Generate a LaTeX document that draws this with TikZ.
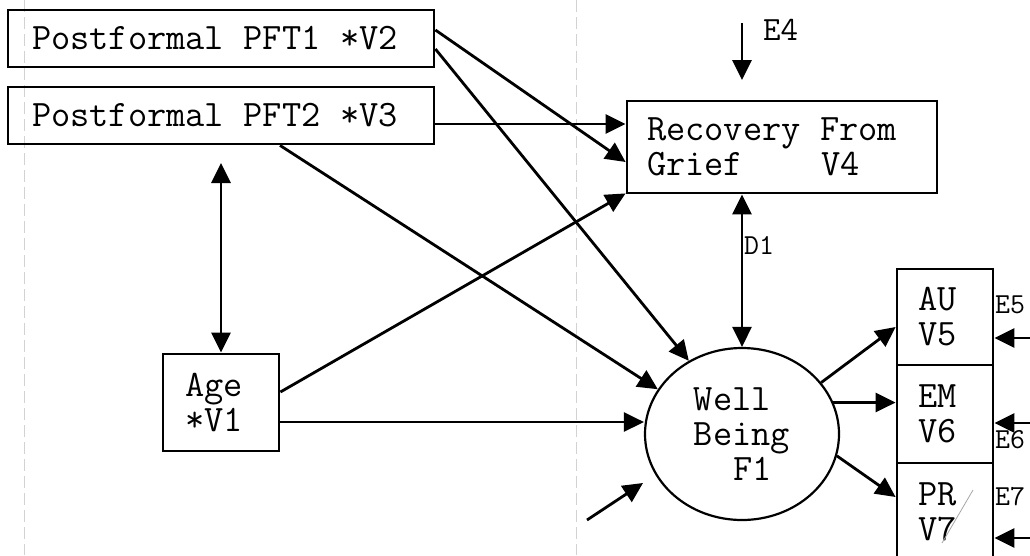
\documentclass[tikz,border=0pt]{standalone}
\usepackage{fontspec}
\usetikzlibrary{arrows.meta,shapes.geometric,calc}
% full-width typewriter space
\newcommand\tsp{\hspace*{0.525em}}

\begin{document}
\begin{tikzpicture}[x=1pt,y=-1pt,
  every node/.style={font=\ttfamily\fontsize{37.3}{35}\selectfont},
  box/.style={draw,line width=2.8pt,inner ysep=0pt,align=left},
  arr/.style={line width=2.8pt,-{Triangle[length=20pt,width=19pt]}},
  dbl/.style={line width=2.8pt,{Triangle[length=20pt,width=19pt]}-{Triangle[length=20pt,width=19pt]}},
  lab/.style={font=\ttfamily\fontsize{29}{30}\selectfont,inner sep=0pt,anchor=west},
  scan/.style={gray!35,line width=1pt,dash pattern=on 12pt off 5pt}]

\useasboundingbox (0,0) rectangle (1030,555);
\clip (0,0) rectangle (1030,555);

% faint guide lines of the page
\draw[scan] (24,0) -- (24,555);
\draw[scan] (576,0) -- (576,555);

% measured variables
\node[box,minimum width=426pt,minimum height=57pt,text width=378pt,inner xsep=24pt] (v2) at (221,38.5) {Postformal\tsp PFT1\tsp*V2};
\node[box,minimum width=426pt,minimum height=57pt,text width=378pt,inner xsep=24pt] (v3) at (221,115.5) {Postformal\tsp PFT2\tsp*V3};
\node[box,minimum width=310pt,minimum height=92pt,text width=270pt,inner xsep=20pt] (rec) at (782,147) {Recovery\tsp From\\Grief\hspace*{2.1em}V4};
\node[box,minimum width=116pt,minimum height=97pt,text width=72pt,inner xsep=22pt] (age) at (221,402.5) {Age\\{}*V1};
\node[box,minimum width=96pt,minimum height=96pt,text width=54pt,inner xsep=21pt] (au) at (945,317) {AU\\V5};
\node[box,minimum width=96pt,minimum height=98pt,text width=54pt,inner xsep=21pt] (em) at (945,414) {EM\\V6};
\node[box,minimum width=96pt,minimum height=97pt,text width=54pt,inner xsep=21pt] (pr) at (945,511.5) {PR\\V7};

% latent factor
\node[draw,ellipse,line width=2.2pt,minimum width=194pt,minimum height=172pt,inner sep=0pt,align=left] (wb) at (742,434) {Well\\Being\\\hspace*{1.05em}F1};

% free ends of error and disturbance arrows
\coordinate (e4s) at (742,23);
\coordinate (e4e) at (742,80);
\coordinate (fs) at (587,520);
\coordinate (fe) at (643,483);
\coordinate (e5s) at (1030,338);
\coordinate (e6s) at (1030,423);
\coordinate (e7s) at (1030,538);
\coordinate (a3) at (221,163);

% paths into Recovery From Grief
\draw[arr] ([yshift=8.5pt]v2.east) -- ([yshift=-15pt]rec.west);
\draw[arr] ([yshift=-8.5pt]v3.east) -- ([yshift=23pt]rec.west);
\draw[arr] ([yshift=10.5pt]age.east) -- ([yshift=1pt]rec.south west);
\draw[arr] (e4s) -- (e4e);

% paths into Well Being
\draw[arr] ([yshift=-10.5pt]v2.east) -- (wb.126);
\draw[arr] ([xshift=59pt]v3.south) -- (wb.152);
\path ([yshift=-19.5pt]age.east) coordinate (ag);
\draw[arr] (ag) -- (ag -| wb.west);
\draw[arr] (fs) -- (fe);
\draw[dbl] (wb.north |- rec.south) -- (wb.north);
\draw[dbl] (a3) -- (age.north);

% indicators of Well Being
\draw[arr] (wb.33) -- ([yshift=-10pt]au.west);
\path (wb.19) coordinate (wbe);
\draw[arr] (wbe) -- (wbe -| em.west);
\draw[arr] (wb.-13) -- ([yshift=14.5pt]pr.west);

% error terms
\draw[arr] (e5s) -- (e5s -| au.east);
\draw[arr] (e6s) -- (e6s -| em.east);
\draw[arr] (e7s) -- (e7s -| pr.east);

% labels
\node[lab,font=\ttfamily\fontsize{34}{34}\selectfont] (le4) at (763,30) {E4};
\node[lab] (ld1) at (744,245) {D1};
\node[lab] (le5) at (995,305) {E5};
\node[lab] (le6) at (995,440) {E6};
\node[lab] (le7) at (995,497) {E7};

% pen stroke across V7
\draw[gray!70,line width=0.8pt] (973,490) -- (942,543);
\end{tikzpicture}
\end{document}
